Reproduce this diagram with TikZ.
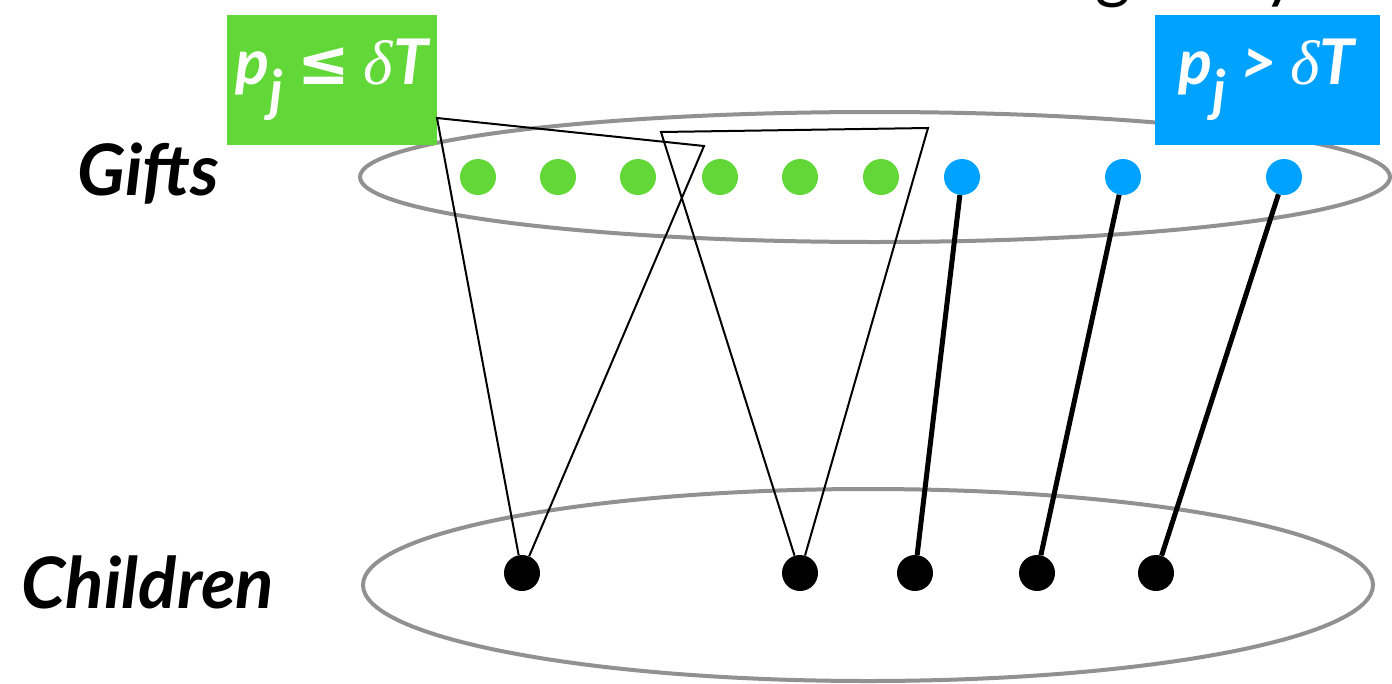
\documentclass[tikz,border=0pt]{standalone}
\usepackage{fontspec}
\setsansfont{Lato}
\newfontfamily\symfont{DejaVu Sans}
\newfontfamily\greekfont{Liberation Serif}
\definecolor{smallgift}{RGB}{98,216,56}
\definecolor{biggift}{RGB}{0,162,255}
\definecolor{setline}{RGB}{145,145,145}
\tikzset{
	gift/.style     = {circle, inner sep=0pt, minimum size=36pt},
	kid/.style      = {circle, fill=black, inner sep=0pt, minimum size=36pt},
	tag/.style      = {rectangle, inner sep=0pt, text=white,
		minimum width = 210pt,
		minimum height = 130pt,
		font=\sffamily\bfseries\itshape\fontsize{63}{64}\selectfont},
	setname/.style  = {inner sep=0pt, font=\sffamily\bfseries\itshape\fontsize{71}{72}\selectfont},
	set/.style      = {draw=setline, line width=4pt},
	bundle/.style   = {draw, line width=2pt, line join=miter},
	single/.style   = {draw, line width=5pt},
}
\newcommand{\pj}{p\raisebox{-26pt}{\fontsize{56}{56}\selectfont j}}
\newcommand{\dT}{{\greekfont\itshape\mdseries δ}T}

\begin{document}
\begin{tikzpicture}[ x=1pt,                    %<--one unit is one point
                     y=-1pt ]                  %<--y runs downwards

    \useasboundingbox (0,0) rectangle (1392,683);
    \clip (0,0) rectangle (1392,683);

    %Drawing the two sets:
    \draw[set] (875,177) ellipse [x radius=515, y radius=65];
    \draw[set] (868,585) ellipse [x radius=505, y radius=96];

    \draw%-----------------------------------------------------------------------------------------
    	%Drawing the title and set names:
    	node(title) at (1095,-5) [anchor=base west, inner sep=0pt, font=\sffamily\fontsize{68}{68}\selectfont] {greedy}
    	node(giftsname) at (148,174) [setname] {Gifts}
    	node(childrenname) at (148,582) [setname] {Children}
    	%Drawing the threshold tags:
    	node(smalltag) at (332,80) [tag, fill=smallgift] {\pj\ {\symfont ≤} \dT}
    	node(bigtag) at (1267,80) [tag, fill=biggift, minimum width=225pt] {\pj\ > \dT}
    	%Drawing the corners of the bundles:
    	node[shape=coordinate][](bundleA1) at (437,118){}
    	node[shape=coordinate][](bundleA2) at (704,146){}
    	node[shape=coordinate][](bundleB1) at (661,132){}
    	node[shape=coordinate][](bundleB2) at (928,128){}
    ;%---------------------------------------------------------------------------------------------

    %Drawing the gifts:
    \foreach \x [count=\i] in {478,558,638,720,800,881}
    	\node(small\i) at (\x,177) [gift, fill=smallgift] {};
    \foreach \x [count=\i] in {962,1123,1284}
    	\node(big\i) at (\x,177) [gift, fill=biggift] {};

    %Drawing the children:
    \foreach \x [count=\i] in {522,800,915,1037,1156}
    	\node(child\i) at (\x,573) [kid] {};

    %Bundles of small gifts
    \draw[bundle] (child1) -- (bundleA1) -- (bundleA2) -- (child1);
    \draw[bundle] (child2) -- (bundleB1) -- (bundleB2) -- (child2);

    %One big gift per child
    \draw[single] (big1) -- (child3);
    \draw[single] (big2) -- (child4);
    \draw[single] (big3) -- (child5);

\end{tikzpicture}
\end{document}
